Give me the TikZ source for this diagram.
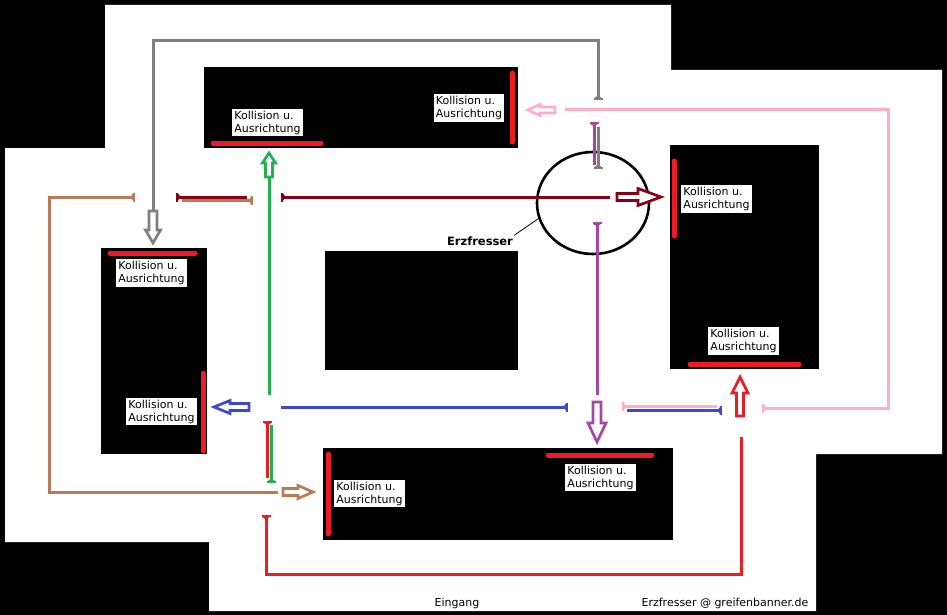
\documentclass[tikz,border=0pt]{standalone}
\usepackage{fontspec}
\setmainfont{DejaVu Sans}
\usetikzlibrary{arrows.meta,shapes.geometric}
\definecolor{cgray}{HTML}{7F7F7F}
\definecolor{cmaroon}{HTML}{880015}
\definecolor{cbrown}{HTML}{B97A57}
\definecolor{cgreen}{HTML}{22B14C}
\definecolor{cred}{HTML}{ED1C24}
\definecolor{cblue}{HTML}{3F48CC}
\definecolor{cpink}{HTML}{FFAEC9}
\definecolor{cpurple}{HTML}{A349A4}
\tikzset{
  myT/.tip={Triangle[reversed,length=3pt,width=8pt] Bar[width=9pt,line width=1.6pt]},
  conn/.style={line width=3pt},
  harrowline/.style={line width=2.7pt,fill=white,line join=miter},
  redbar/.style={draw=cred,line width=5pt,line cap=round},
  room/.style={fill=black},
  lbl/.style={fill=white,inner sep=2pt,align=left,font=\fontsize{11pt}{13pt}\selectfont},
  plain/.style={font=\fontsize{11pt}{13pt}\selectfont,inner sep=1pt},
}
\newcommand\harrow[7]{\draw[harrowline,draw=#1,shift={#2},rotate=#3]
  (0,-#6) -- ({#4-#5},-#6) -- ({#4-#5},-#7) -- (#4,0) -- ({#4-#5},#7) -- ({#4-#5},#6) -- (0,#6) -- cycle;}
\begin{document}
\begin{tikzpicture}[x=1pt,y=-1pt]
\useasboundingbox (0,0) rectangle (947,615);
\fill[black] (0,0) rectangle (947,615);
% floor
\fill[white] (105,5) -- (671,5) -- (671,70) -- (942,70) -- (942,454) -- (816,454) -- (816,611) -- (209,611) -- (209,542) -- (5,542) -- (5,148) -- (105,148) -- cycle;
% rooms
\fill[room] (204,67) rectangle (518,148);
\fill[room] (101,248) rectangle (207,454);
\fill[room] (325,251) rectangle (518,370);
\fill[room] (670,145) rectangle (819,369);
\fill[room] (323,448) rectangle (673,540);
% collision bars
\draw[redbar] (213,143) -- (321,143);
\draw[redbar] (512,73) -- (512,142);
\draw[redbar] (110,253) -- (195,253);
\draw[redbar] (203,373) -- (203,451);
\draw[redbar] (674,161) -- (674,236);
\draw[redbar] (690,364) -- (799,364);
\draw[redbar] (328,454) -- (328,534);
\draw[redbar] (548,455) -- (652,455);
% labels
\node[lbl] (l1) at (267.5,122.5) {Kollision u.\\Ausrichtung};
\node[lbl] (l2) at (469,108) {Kollision u.\\Ausrichtung};
\node[lbl] (l3) at (151.5,273) {Kollision u.\\Ausrichtung};
\node[lbl] (l4) at (161.5,411.5) {Kollision u.\\Ausrichtung};
\node[lbl] (l5) at (369.5,493.5) {Kollision u.\\Ausrichtung};
\node[lbl] (l6) at (600.5,477.5) {Kollision u.\\Ausrichtung};
\node[lbl] (l7) at (716.5,199) {Kollision u.\\Ausrichtung};
\node[lbl] (l8) at (743.5,341) {Kollision u.\\Ausrichtung};
% Erzfresser
\node[draw=black,line width=2.6pt,ellipse,minimum width=112pt,minimum height=102pt,inner sep=0pt] (ef) at (593,203) {};
\node[plain,font=\fontsize{11.5pt}{13pt}\selectfont\bfseries] (efl) at (480,241) {Erzfresser};
\draw[line width=0.8pt] (efl.north east) -- (ef.196);
% connectors
\draw[conn,draw=cgray,-{myT}] (153,211) -- (153,41) -- (598,41) -- (598,100);
\draw[conn,draw=cgray,-{myT}] (598,127) -- (598,169);
\draw[conn,draw=cpurple,-{myT}] (594,165) -- (594,122);
\draw[conn,draw=cpurple,-{myT}] (597,395) -- (597,222);
\draw[conn,draw=cmaroon,-{myT}] (610,197) -- (281,197);
\draw[conn,draw=cmaroon,-{myT}] (247,197) -- (176,197);
\draw[conn,draw=cbrown,-{myT}] (182,200.5) -- (253,200.5);
\draw[conn,draw=cbrown,-{myT}] (278,492) -- (49,492) -- (49,197) -- (135,197);
\draw[conn,draw=cgreen] (269,395) -- (269,177);
\draw[conn,draw=cgreen,-{myT}] (271.5,425) -- (271.5,483);
\draw[conn,draw=cred,-{myT}] (267.5,478) -- (267.5,421);
\draw[conn,draw=cred,-{myT}] (741,437) -- (741,574) -- (266,574) -- (266,515);
\draw[conn,draw=cblue,-{myT}] (281,407) -- (568,407);
\draw[conn,draw=cblue,-{myT}] (627,410.5) -- (722,410.5);
\draw[conn,draw=cpink,-{myT}] (717,406.5) -- (622,406.5);
\draw[conn,draw=cpink,-{myT}] (565,110) -- (888,110) -- (888,408) -- (762,408);
% hollow arrows
\harrow{cgray}{(153,211)}{-90}{32}{13}{4}{7.5}
\harrow{cgreen}{(269,177)}{90}{24}{10}{3.5}{6.5}
\harrow{cmaroon}{(617,197)}{0}{44}{23}{3.5}{8.5}
\harrow{cpink}{(555,110)}{180}{27}{12}{3}{5.5}
\harrow{cblue}{(249,407)}{180}{35}{16}{3.5}{6.5}
\harrow{cbrown}{(283,492)}{0}{30}{15}{3.5}{6.5}
\harrow{cpurple}{(597,402)}{-90}{40}{19}{4}{9}
\harrow{cred}{(740,416)}{90}{39}{16}{3.5}{8}
% footer
\node[plain] (eing) at (457,603) {Eingang};
\node[plain] (copy) at (725,603) {Erzfresser @ greifenbanner.de};
\end{tikzpicture}
\end{document}
